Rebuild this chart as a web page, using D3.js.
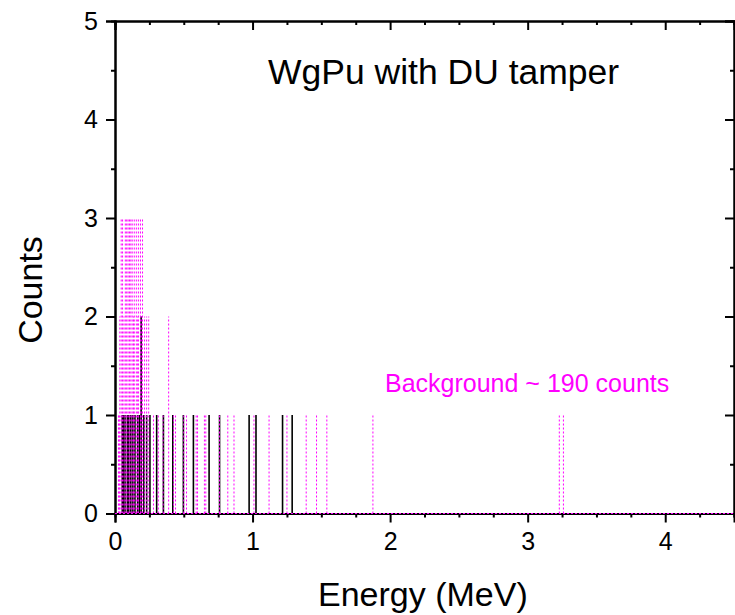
<!DOCTYPE html>
<html lang="en">
<head>
<meta charset="utf-8">
<script src="https://cdn.jsdelivr.net/npm/d3@7"></script>
<style>
  body { margin: 0; background: #fff; }
  svg text { font-family: Arial, "Liberation Sans", sans-serif; }
</style>
</head>
<body>
<div id="my_dataviz"></div>
<script>

// background spectrum (magenta, dotted)
const bgEnergy = [0.025, 0.03, 0.035, 0.045, 0.055, 0.065, 0.075, 0.085, 0.095, 0.105, 0.115, 0.125,
    0.135, 0.14, 0.155, 0.165, 0.17, 0.185, 0.195, 0.20, 0.215, 0.23, 0.245, 0.28, 0.315, 0.35,
    0.39, 0.425, 0.44, 0.50, 0.52, 0.59, 0.60, 0.65, 0.66, 0.76, 0.82, 0.865, 1.01, 1.12, 1.25,
    1.39, 1.465, 1.54, 1.875, 3.23, 3.26];
const bgCounts = [1, 1, 2, 3, 3, 2, 3, 3, 3, 3, 3, 3,
    2, 3, 3, 2, 3, 3, 2, 3, 2, 2, 2, 1, 1, 1,
    2, 1, 1, 1, 1, 1, 1, 1, 1, 1, 1, 1, 1, 1, 1,
    1, 1, 1, 1, 1, 1];

// WgPu with DU tamper (black, solid)
const sigEnergy = [0.053, 0.06, 0.073, 0.09, 0.10, 0.115, 0.13, 0.145, 0.165, 0.177, 0.19, 0.21,
    0.23, 0.254, 0.303, 0.352, 0.42, 0.497, 0.57, 0.684, 0.76, 0.975, 1.025, 1.218, 1.288];
const sigCounts = [1, 1, 1, 1, 1, 1, 1, 1, 1, 1, 2, 1,
    1, 1, 1, 1, 1, 1, 1, 1, 1, 1, 1, 1, 1];

const xMajor = [0, 1, 2, 3, 4];
const yMajor = [0, 1, 2, 3, 4, 5];

const margin = { top: 21, right: 1, bottom: 101.5, left: 115 },
    width = 735 - margin.left - margin.right,
    height = 615 - margin.top - margin.bottom;

const root = d3.select("#my_dataviz")
    .append("svg")
    .attr("width", 735)
    .attr("height", 615);

const svg = root.append("g")
    .attr("transform", `translate(${margin.left},${margin.top})`);

const x = d3.scaleLinear().domain([0, 4.5]).range([0, width]);
const y = d3.scaleLinear().domain([0, 5]).range([height, 0]);

const xMinor = d3.range(0, 4.51, 0.25).filter(v => !xMajor.includes(v));
const yMinor = d3.range(0.5, 5, 1);

// data: drop lines
const bg = bgEnergy.map((e, i) => ({ e: e, c: bgCounts[i] }));
const sig = sigEnergy.map((e, i) => ({ e: e, c: sigCounts[i] }));

svg.append("g").selectAll("line")
    .data(sig)
    .enter()
    .append("line")
    .attr("x1", d => x(d.e)).attr("x2", d => x(d.e))
    .attr("y1", y(0)).attr("y2", d => y(d.c))
    .attr("stroke", "#000")
    .attr("stroke-width", 1.6);

svg.append("g").selectAll("line")
    .data(bg)
    .enter()
    .append("line")
    .attr("x1", d => x(d.e)).attr("x2", d => x(d.e))
    .attr("y1", y(0)).attr("y2", d => y(d.c))
    .attr("stroke", "#ff00ff")
    .attr("stroke-width", 1)
    .attr("stroke-dasharray", "2,2");

// axes
function styleAxis(g) {
    g.select(".domain").attr("stroke-width", 2);
    g.selectAll(".tick line").attr("stroke-width", 2);
    g.selectAll("text").style("font-size", "25px").attr("fill", "#000");
}

svg.append("g")
    .attr("transform", `translate(0,${height})`)
    .call(d3.axisBottom(x).tickValues(xMajor).tickSize(9).tickPadding(10).tickFormat(d3.format("d")))
    .call(styleAxis);
svg.append("g")
    .attr("transform", `translate(0,${height})`)
    .call(d3.axisBottom(x).tickValues(xMinor).tickSize(4).tickFormat(""))
    .call(styleAxis);

svg.append("g")
    .call(d3.axisTop(x).tickValues(xMajor).tickSize(-9).tickFormat(""))
    .call(styleAxis);
svg.append("g")
    .call(d3.axisTop(x).tickValues(xMinor).tickSize(-4).tickFormat(""))
    .call(styleAxis);

svg.append("g")
    .call(d3.axisLeft(y).tickValues(yMajor).tickSize(9).tickPadding(8).tickFormat(d3.format("d")))
    .call(styleAxis);
svg.append("g")
    .call(d3.axisLeft(y).tickValues(yMinor).tickSize(4).tickFormat(""))
    .call(styleAxis);

svg.append("g")
    .attr("transform", `translate(${width},0)`)
    .call(d3.axisRight(y).tickValues(yMajor).tickSize(-9).tickFormat(""))
    .call(styleAxis);
svg.append("g")
    .attr("transform", `translate(${width},0)`)
    .call(d3.axisRight(y).tickValues(yMinor).tickSize(-4).tickFormat(""))
    .call(styleAxis);

// baseline of the background spectrum
svg.append("line")
    .attr("x1", x(0)).attr("x2", x(4.5))
    .attr("y1", y(0)).attr("y2", y(0))
    .attr("stroke", "#ff00ff")
    .attr("stroke-width", 1)
    .attr("stroke-dasharray", "2,2");

// labels
root.append("text")
    .attr("x", 268)
    .attr("y", 84)
    .style("font-size", "35.5px")
    .text("WgPu with DU tamper");

root.append("text")
    .attr("x", 385)
    .attr("y", 392)
    .attr("fill", "#ff00ff")
    .style("font-size", "25px")
    .text("Background ~ 190 counts");

root.append("text")
    .attr("x", 318)
    .attr("y", 606)
    .style("font-size", "34px")
    .text("Energy (MeV)");

root.append("text")
    .attr("transform", "translate(42,290) rotate(-90)")
    .attr("text-anchor", "middle")
    .style("font-size", "34px")
    .text("Counts");

</script>
</body>
</html>
